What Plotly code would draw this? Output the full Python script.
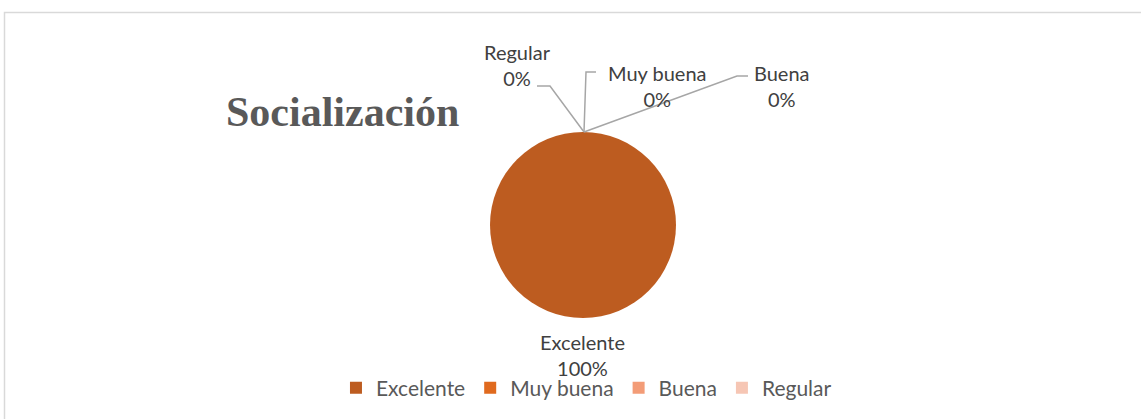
import plotly.graph_objects as go

# ---- data ----
categories = ["Excelente", "Muy buena", "Buena", "Regular"]
values = [100, 0, 0, 0]
colors = ["#BD5C20", "#E06A1E", "#F39C77", "#F6C6B4"]
title_text = "Socialización"

W, H = 1141, 419
def px(x):
    return x / W
def py(y):
    return 1 - y / H

# pie geometry (pixels)
cx, cy, r = 583, 225, 93
total = sum(values)
pcts = [f"{round(v * 100 / total)}%" for v in values]

fig = go.Figure()
fig.add_trace(go.Pie(
    labels=categories, values=values, sort=False, direction="clockwise",
    rotation=0, textinfo="none", hoverinfo="label+percent",
    marker=dict(colors=colors, line=dict(width=0)),
    domain=dict(x=[px(cx - r), px(cx + r)], y=[py(cy + r), py(cy - r)]),
    showlegend=True,
))

label_font = dict(family="Lato, Open Sans, sans-serif", size=20, color="#404040")

# label positions (pixel centres of label text) and leader-line elbows
label_pos = {
    "Excelente": (582, 355, None),
    "Muy buena": (657, 86, [(584, 132), (586, 72), (596, 72)]),
    "Buena": (782, 86, [(584, 132), (737, 76), (748, 76)]),
    "Regular": (517, 65, [(584, 132), (550, 86), (537, 86)]),
}

annotations = []
shapes = []
for cat, pct in zip(categories, pcts):
    x, y, path = label_pos[cat]
    annotations.append(dict(
        x=px(x), y=py(y), xref="paper", yref="paper", showarrow=False,
        text=f"{cat}<br>{pct}", font=label_font, align="center",
        xanchor="center", yanchor="middle",
    ))
    if path:
        d = "M " + " L ".join(f"{px(a)},{py(b)}" for a, b in path)
        shapes.append(dict(type="path", path=d, xref="paper", yref="paper",
                           line=dict(color="#A6A6A6", width=1.5)))

annotations.append(dict(
    x=px(342), y=py(112), xref="paper", yref="paper", showarrow=False,
    text=f"<b>{title_text}</b>",
    font=dict(family="Liberation Serif, Times New Roman, serif", size=42, color="#595959"),
    xanchor="center", yanchor="middle",
))

# chart-area border
shapes.append(dict(type="rect", xref="paper", yref="paper",
                   x0=px(4.5), x1=px(1160), y0=py(440), y1=py(12.5),
                   line=dict(color="#D9D9D9", width=1.5), fillcolor="rgba(0,0,0,0)"))

fig.update_layout(
    width=W, height=H,
    margin=dict(l=0, r=0, t=0, b=0),
    paper_bgcolor="white", plot_bgcolor="white",
    annotations=annotations, shapes=shapes,
    legend=dict(orientation="h", x=0.514, xanchor="center", y=py(388), yanchor="middle",
                font=dict(family="Lato, Open Sans, sans-serif", size=21, color="#595959"),
                itemwidth=30, traceorder="normal", bgcolor="rgba(0,0,0,0)"),
)

fig.write_html("out.html", config={"displayModeBar": False},
               post_script="document.body.style.margin='0';document.body.style.overflow='hidden';")
